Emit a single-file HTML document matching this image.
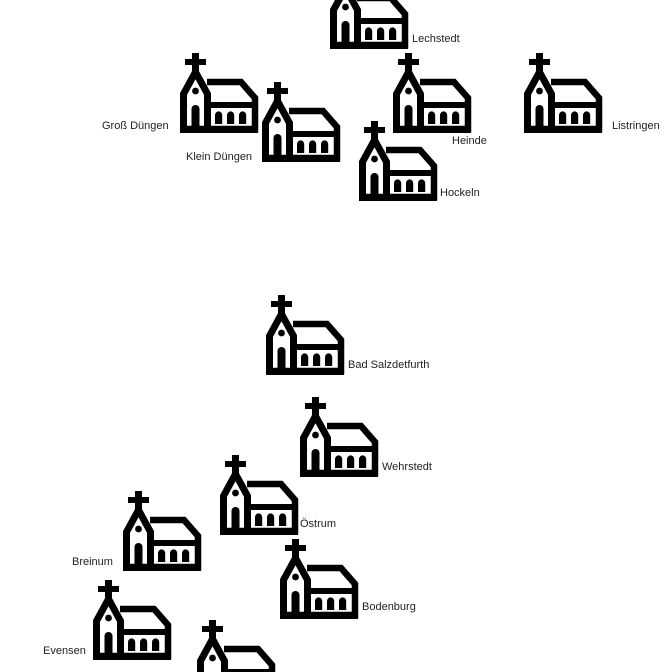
<!DOCTYPE html>
<html><head><meta charset="utf-8"><style>
html,body{margin:0;width:672px;height:672px;overflow:hidden}
body{background:#fff;position:relative;font-family:"Liberation Sans",sans-serif;}
svg.c{position:absolute;width:80px;height:80px;overflow:visible}
.l{position:absolute;font-size:11px;color:#222;white-space:nowrap;line-height:12px}
</style></head><body>
<svg width="0" height="0" style="position:absolute"><defs>
<g id="ch">
<rect x="12" y="0" width="7" height="22" fill="#000"/>
<rect x="5" y="6" width="21" height="6" fill="#000"/>
<path d="M3.5,76 V41 L15.5,19 L27.5,41 V76" fill="none" stroke="#000" stroke-width="7" stroke-linejoin="miter"/>
<path d="M27,29 H61 L75,45 V76 H3" fill="none" stroke="#000" stroke-width="6.5"/>
<rect x="0" y="73" width="78" height="7" fill="#000"/>
<rect x="27" y="49" width="50" height="6" fill="#000"/>
<circle cx="15.5" cy="38" r="3.4" fill="#000"/>
<path d="M11.5,76 V56 a4,4 0 0 1 8,0 V76z" fill="#000"/>
<path d="M35,71 V62 a3.6,3.6 0 0 1 7.2,0 V71z M47,71 V62 a3.6,3.6 0 0 1 7.2,0 V71z M59,71 V62 a3.6,3.6 0 0 1 7.2,0 V71z" fill="#000"/>
</g></defs></svg>

<svg class="c" style="left:330px;top:-31px"><use href="#ch"/></svg><div class="l" style="left:412px;top:33px">Lechstedt</div>
<svg class="c" style="left:180px;top:53px"><use href="#ch"/></svg><div class="l" style="left:102px;top:120px">Groß Düngen</div>
<svg class="c" style="left:262px;top:82px"><use href="#ch"/></svg><div class="l" style="left:186px;top:151px">Klein Düngen</div>
<svg class="c" style="left:393px;top:53px"><use href="#ch"/></svg><div class="l" style="left:452px;top:135px">Heinde</div>
<svg class="c" style="left:524px;top:53px"><use href="#ch"/></svg><div class="l" style="left:612px;top:120px">Listringen</div>
<svg class="c" style="left:359px;top:121px"><use href="#ch"/></svg><div class="l" style="left:440px;top:187px">Hockeln</div>
<svg class="c" style="left:266px;top:295px"><use href="#ch"/></svg><div class="l" style="left:348px;top:359px">Bad Salzdetfurth</div>
<svg class="c" style="left:300px;top:397px"><use href="#ch"/></svg><div class="l" style="left:382px;top:461px">Wehrstedt</div>
<svg class="c" style="left:220px;top:455px"><use href="#ch"/></svg><div class="l" style="left:300px;top:518px">Östrum</div>
<svg class="c" style="left:123px;top:491px"><use href="#ch"/></svg><div class="l" style="left:72px;top:556px">Breinum</div>
<svg class="c" style="left:280px;top:539px"><use href="#ch"/></svg><div class="l" style="left:362px;top:601px">Bodenburg</div>
<svg class="c" style="left:93px;top:580px"><use href="#ch"/></svg><div class="l" style="left:43px;top:645px">Evensen</div>
<svg class="c" style="left:197px;top:620px"><use href="#ch"/></svg>
</body></html>
